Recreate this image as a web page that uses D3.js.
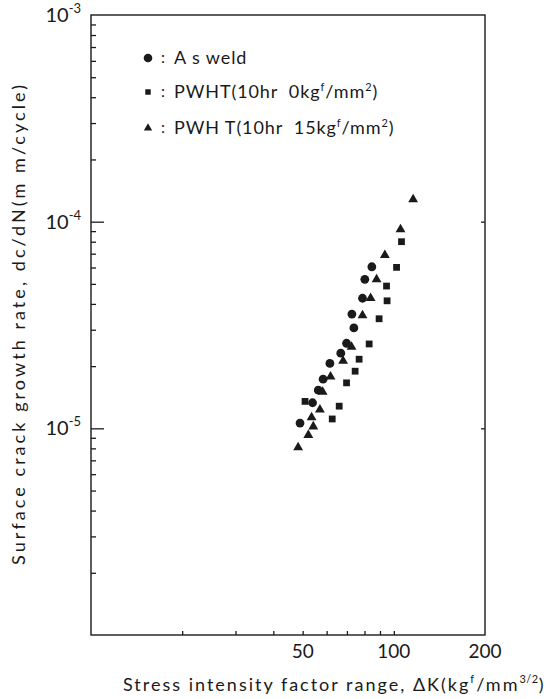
<!DOCTYPE html>
<html>
<head>
<meta charset="utf-8">
<script src="https://cdn.jsdelivr.net/npm/d3@7"></script>
<style>
  html, body { margin: 0; padding: 0; background: #fff; }
  svg text { font-family: "Lato", "Liberation Sans", sans-serif; fill: #1a1a1a; }
</style>
</head>
<body>
<div id="chart"></div>
<script>
// crack growth data (dK in kgf/mm^3/2, rate in mm/cycle)
const asWeldK = [84.6, 80.2, 78.8, 72.7, 73.8, 69.8, 66.8, 61.5, 58.4, 56.3, 53.9, 49.0];
const asWeldRate = [6.05e-5, 5.26e-5, 4.26e-5, 3.57e-5, 3.06e-5, 2.58e-5, 2.31e-5, 2.06e-5, 1.73e-5, 1.53e-5, 1.33e-5, 1.06e-5];

const pwht0K = [106.0, 102.1, 94.6, 95.0, 89.4, 82.9, 76.8, 74.5, 69.8, 66.0, 62.6, 50.9];
const pwht0Rate = [8.0e-5, 6.01e-5, 4.88e-5, 4.14e-5, 3.39e-5, 2.56e-5, 2.16e-5, 1.89e-5, 1.66e-5, 1.28e-5, 1.11e-5, 1.35e-5];

const pwht15K = [115.8, 105.2, 93.4, 87.7, 83.8, 78.8, 72.5, 68.0, 61.8, 58.2, 57.0, 53.5, 54.2, 52.2, 48.3];
const pwht15Rate = [1.28e-4, 9.18e-5, 6.89e-5, 5.26e-5, 4.26e-5, 3.52e-5, 2.48e-5, 2.12e-5, 1.78e-5, 1.50e-5, 1.23e-5, 1.13e-5, 1.02e-5, 9.28e-6, 8.09e-6];

const xTicks = [20, 30, 40, 50, 60, 70, 80, 90, 100];
const xLabels = [50, 100, 200];
const yMajor = [1e-5, 1e-4];
const yLabels = [1e-3, 1e-4, 1e-5];

const width = 551;
const height = 699;
const margin = { top: 15, right: 66, bottom: 64, left: 91 };
const ink = "#1a1a1a";

const svg = d3
  .select("#chart")
  .append("svg")
  .attr("width", width)
  .attr("height", height);

const x = d3
  .scaleLog()
  .domain([10, 200])
  .range([margin.left, width - margin.right]);

const y = d3
  .scaleLog()
  .domain([1e-6, 1e-3])
  .range([height - margin.bottom, margin.top]);

// minor y ticks: 2..9 in each decade
const yMinor = [];
[1e-6, 1e-5, 1e-4].forEach((d) => {
  for (let k = 2; k <= 9; k++) yMinor.push(d * k);
});

// frame
svg
  .append("rect")
  .attr("x", x(10))
  .attr("y", y(1e-3))
  .attr("width", x(200) - x(10))
  .attr("height", y(1e-6) - y(1e-3))
  .attr("fill", "none")
  .attr("stroke", ink)
  .attr("stroke-width", 1.4);

function cleanAxis(g) {
  g.select(".domain").remove();
  g.selectAll(".tick line").attr("stroke", ink).attr("stroke-width", 1.3);
}

// bottom ticks
svg
  .append("g")
  .attr("transform", `translate(0, ${y(1e-6)})`)
  .call(
    d3.axisBottom(x)
      .tickValues(xTicks)
      .tickSize(-4)
      .tickFormat("")
  )
  .call(cleanAxis);

// x tick labels
svg
  .append("g")
  .selectAll("text")
  .data(xLabels)
  .join("text")
  .attr("x", (d) => x(d))
  .attr("y", y(1e-6) + 23)
  .attr("text-anchor", "middle")
  .attr("font-size", 19)
  .text((d) => d);

// left ticks, minor then major
svg
  .append("g")
  .attr("transform", `translate(${x(10)}, 0)`)
  .call(d3.axisLeft(y).tickValues(yMinor).tickSize(-5).tickFormat(""))
  .call(cleanAxis);

svg
  .append("g")
  .attr("transform", `translate(${x(10)}, 0)`)
  .call(d3.axisLeft(y).tickValues(yMajor).tickSize(-13).tickFormat(""))
  .call(cleanAxis);

// right side small ticks
svg
  .append("g")
  .attr("transform", `translate(${x(200)}, 0)`)
  .call(d3.axisRight(y).tickValues(yMajor).tickSize(-4).tickFormat(""))
  .call(cleanAxis);

// y tick labels 10^-n
const yl = svg
  .append("g")
  .selectAll("text")
  .data(yLabels)
  .join("text")
  .attr("x", x(10) - 10)
  .attr("y", (d) => y(d) + 7)
  .attr("text-anchor", "end")
  .attr("font-size", 20);
yl.append("tspan").text("10");
yl.append("tspan")
  .attr("font-size", 13)
  .attr("dy", -9)
  .text((d) => "-" + Math.round(-Math.log10(d)));

// points
const g = svg.append("g").attr("fill", ink);

g.selectAll("circle")
  .data(d3.zip(asWeldK, asWeldRate))
  .join("circle")
  .attr("cx", (d) => x(d[0]))
  .attr("cy", (d) => y(d[1]))
  .attr("r", 4.4);

g.selectAll("path.sq")
  .data(d3.zip(pwht0K, pwht0Rate))
  .join("path")
  .attr("class", "sq")
  .attr("transform", (d) => `translate(${x(d[0])},${y(d[1])})`)
  .attr("d", d3.symbol(d3.symbolSquare, 46));

g.selectAll("path.tri")
  .data(d3.zip(pwht15K, pwht15Rate))
  .join("path")
  .attr("class", "tri")
  .attr("transform", (d) => `translate(${x(d[0])},${y(d[1])})`)
  .attr("d", d3.symbol(d3.symbolTriangle, 42));

// legend
const legendRows = [
  { y: 58, sym: d3.symbolCircle, size: 58, parts: [["A s weld"]] },
  { y: 92, sym: d3.symbolSquare, size: 30, parts: [["PWHT(10hr  0kg"], ["f", 1], ["/mm"], ["2", 1], [")"]] },
  { y: 128, sym: d3.symbolTriangle, size: 30, parts: [["PWH T(10hr  15kg"], ["f", 1], ["/mm"], ["2", 1], [")"]] },
];

const lg = svg.append("g");
legendRows.forEach((r) => {
  lg.append("path")
    .attr("transform", `translate(148, ${r.y})`)
    .attr("fill", ink)
    .attr("d", d3.symbol(r.sym, r.size));
  lg.append("text")
    .attr("x", 161)
    .attr("y", r.y + 5)
    .attr("font-size", 16)
    .text(":");
  const t = lg
    .append("text")
    .attr("x", 174)
    .attr("y", r.y + 6)
    .attr("font-size", 18)
    .attr("letter-spacing", 0.9)
    .style("white-space", "pre");
  r.parts.forEach((p, i) => {
    const s = t.append("tspan").text(p[0]);
    if (p[1]) s.attr("font-size", 11).attr("dy", -7);
    else if (i > 0) s.attr("dy", 7);
  });
});

// axis titles
const xt = svg
  .append("text")
  .attr("x", 123)
  .attr("y", 691)
  .attr("font-size", 18)
  .attr("letter-spacing", 2.0);
xt.append("tspan").text("Stress intensity factor range, \u0394K(kg");
xt.append("tspan").attr("font-size", 11).attr("dy", -8).text("f");
xt.append("tspan").attr("dy", 8).text("/mm");
xt.append("tspan").attr("font-size", 11).attr("dy", -8).attr("letter-spacing", 0.5).text("3/2");
xt.append("tspan").attr("dy", 8).text(")");

svg
  .append("text")
  .attr("transform", `translate(25, 325) rotate(-90)`)
  .attr("text-anchor", "middle")
  .attr("font-size", 18)
  .attr("textLength", 480)
  .attr("lengthAdjust", "spacing")
  .text("Surface crack growth rate, dc/dN(m m/cycle)");

svg.node();
</script>
</body>
</html>
